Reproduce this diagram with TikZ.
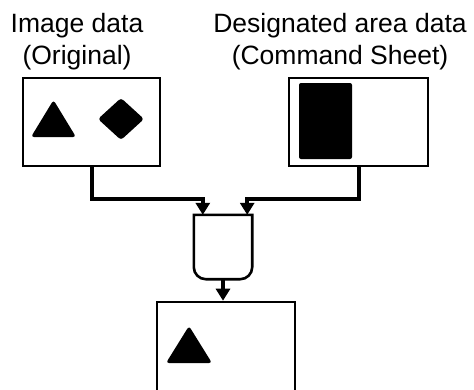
\documentclass[tikz,border=0pt]{standalone}
\usepackage{fontspec}
\setmainfont{Liberation Sans}
\usetikzlibrary{positioning, arrows.meta, calc}

\begin{document}
\begin{tikzpicture}[
        x=1pt, y=-1pt,
        every node/.style={font=\fontsize{26.5}{32}\selectfont},
        caption/.style={align=center, inner sep=0pt},
        databox/.style={rectangle, draw, line width=2.6pt, minimum width=#1, minimum height=88pt, inner sep=0pt},
        mark shape/.style={fill=black, rounded corners=3pt},
        conn/.style={line width=4pt, -{Triangle[width=14pt,length=12pt]}}
    ]
    \useasboundingbox (0,0) rectangle (474,389);
%
    \node[caption] (origtxt) at (77,42) {Image data\\(Original)};
    \node[caption] (sheettxt) at (340,42) {Designated area data\\(Command Sheet)};
%
    \node[databox=137pt] (orig) at (91.5,122) {};
    \node[databox=139pt] (sheet) at (358.5,122) {};
    \node[minimum width=58pt, minimum height=64pt, inner sep=0pt] (merge) at (223,247) {};
    \node[databox=138pt, minimum height=110pt] (result) at (226,357) {};
%
    \draw[line width=2.6pt] (merge.north west) [rounded corners=12pt] -- (merge.south west) -- (merge.south east) [sharp corners] -- (merge.north east) -- cycle;
%
    \fill[mark shape] (31,137) -- (53.5,100) -- (76,137) -- cycle;
    \fill[mark shape] (98,119) -- (121,98) -- (144,119) -- (121,140) -- cycle;
    \fill[mark shape, rounded corners=2pt] (299,83) rectangle (352,159);
    \fill[mark shape] (166,363) -- (189,326) -- (212,363) -- cycle;
%
    \draw[conn] (orig.south) -- ++(0,32) -| ([xshift=9pt]merge.north west);
    \draw[conn] (sheet.south) -- ++(0,32) -| ([xshift=-5pt]merge.north east);
    \draw[conn] (merge.south) -- (merge.south |- result.north);
%
\end{tikzpicture}
\end{document}
